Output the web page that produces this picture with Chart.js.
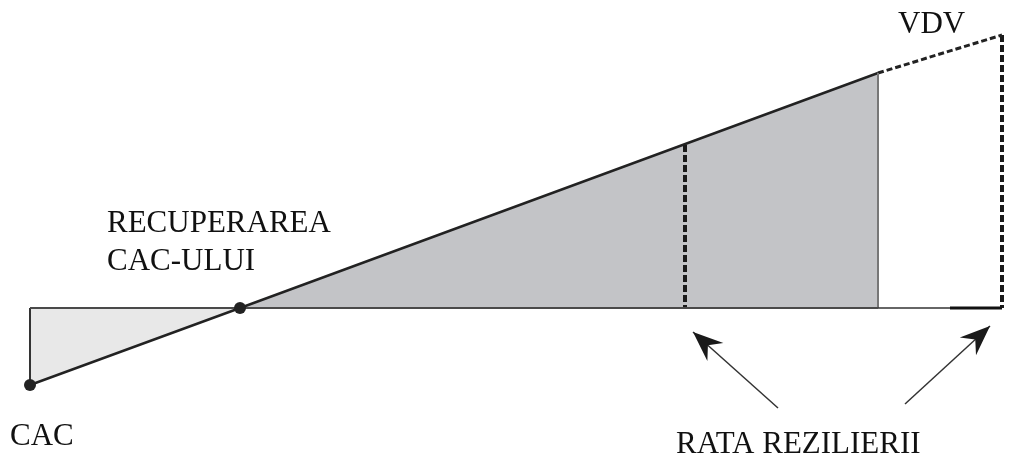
<!DOCTYPE html>
<html>
<head>
<meta charset="utf-8">
<script src="https://cdn.jsdelivr.net/npm/chart.js@4/dist/chart.umd.min.js"></script>
<style>
  html, body { margin: 0; padding: 0; background: #ffffff; }
  #wrap { width: 1010px; height: 459px; position: relative; }
</style>
</head>
<body>
<div id="wrap"><canvas id="chartVdv"></canvas></div>
<script>
// Timp (x) si valoare cumulata (y) citite din desen.
const cashX = [0, 21, 84.8];          // CAC, recuperare, ultima perioada reala
const cashY = [-7.7, 0, 23.5];
const projX = [84.8, 97.2];           // prelungirea estimata pana la VDV
const projY = [23.5, 27.3];
const churnX = [65.5, 97.2];          // rata rezilierii (liniile punctate)
const churnY = [16.3, 27.3];
const arrowTailX = [74.8, 87.5];
const arrowTailY = [-10.0, -9.6];
const arrowTipX = [66.3, 96.0];
const arrowTipY = [-2.4, -1.8];
const dotX = [0, 21];
const dotY = [-7.7, 0];

const FONT = '31px "Liberation Serif", "DejaVu Serif", serif';
const labels = [
  { text: 'CAC', x: -2.0, y: -13.7 },
  { text: 'RECUPERAREA', x: 7.7, y: 7.6 },
  { text: 'CAC-ULUI', x: 7.7, y: 3.8 },
  { text: 'VDV', x: 86.8, y: 27.5 },
  { text: 'RATA REZILIERII', x: 64.6, y: -14.5 },
];

const pts = (xs, ys) => xs.map((x, i) => ({ x, y: ys[i] }));
const line = (data, color, width, dash) => ({
  type: 'line', data, borderColor: color, borderWidth: width,
  borderDash: dash || [], pointRadius: 0, fill: false, tension: 0, order: 1,
});

const datasets = [
  // zona de pierdere / profit fata de 0 - desenata prima (order mare)
  {
    type: 'line', data: pts(cashX, cashY), borderColor: 'rgba(0,0,0,0)', borderWidth: 0,
    pointRadius: 0, tension: 0, order: 10,
    fill: { target: 'origin', above: '#c3c4c7', below: '#e8e8e8' },
  },
  line(pts([0, cashX[2]], [0, 0]), '#4a4a4a', 2),
  line(pts([cashX[2], 92], [0, 0]), '#333333', 1.5),
  line(pts([92, projX[1]], [0, 0]), '#111111', 3),
  line(pts([0, 0], [0, cashY[0]]), '#333333', 2),
  line(pts([cashX[2], cashX[2]], [cashY[2], 0]), '#777777', 2),
  line(pts(projX, projY), '#222222', 3, [6, 3]),
];
churnX.forEach((x, i) => datasets.push(line(pts([x, x], [churnY[i], 0]), '#1a1a1a', 4, [7, 3])));
datasets.push(line(pts(cashX, cashY), '#222222', 2.4));
arrowTailX.forEach((x, i) => datasets.push(line(pts([x, arrowTipX[i]], [arrowTailY[i], arrowTipY[i]]), '#333333', 1.5)));
datasets.push({
  type: 'scatter', data: pts(dotX, dotY), pointRadius: 6, order: 0,
  pointBackgroundColor: '#222222', pointBorderWidth: 0,
});

const decor = {
  id: 'vdvDecor',
  afterDatasetsDraw(chart) {
    const { ctx, scales: { x, y } } = chart;
    ctx.save();
    // varfurile sagetilor
    ctx.fillStyle = '#1a1a1a';
    arrowTipX.forEach((tx, i) => {
      const px = x.getPixelForValue(tx), py = y.getPixelForValue(arrowTipY[i]);
      const qx = x.getPixelForValue(arrowTailX[i]), qy = y.getPixelForValue(arrowTailY[i]);
      const a = Math.atan2(py - qy, px - qx);
      ctx.save();
      ctx.translate(px, py);
      ctx.rotate(a);
      ctx.beginPath();
      ctx.moveTo(0, 0);
      ctx.lineTo(-30, -12);
      ctx.lineTo(-20, 0);
      ctx.lineTo(-30, 12);
      ctx.closePath();
      ctx.fill();
      ctx.restore();
    });
    ctx.fillStyle = '#111111';
    ctx.font = FONT;
    ctx.textAlign = 'left';
    ctx.textBaseline = 'alphabetic';
    labels.forEach((l) => ctx.fillText(l.text, x.getPixelForValue(l.x), y.getPixelForValue(l.y)));
    ctx.restore();
  },
};

new Chart(document.getElementById('chartVdv'), {
  type: 'line',
  data: { datasets },
  options: {
    responsive: true,
    maintainAspectRatio: false,
    animation: false,
    clip: false,
    layout: { padding: 0, autoPadding: false },
    plugins: { legend: { display: false }, tooltip: { enabled: false } },
    scales: {
      x: { type: 'linear', min: -3, max: 98, display: false },
      y: { type: 'linear', min: -15.1, max: 30.8, display: false },
    },
  },
  plugins: [decor],
});
</script>
</body>
</html>
